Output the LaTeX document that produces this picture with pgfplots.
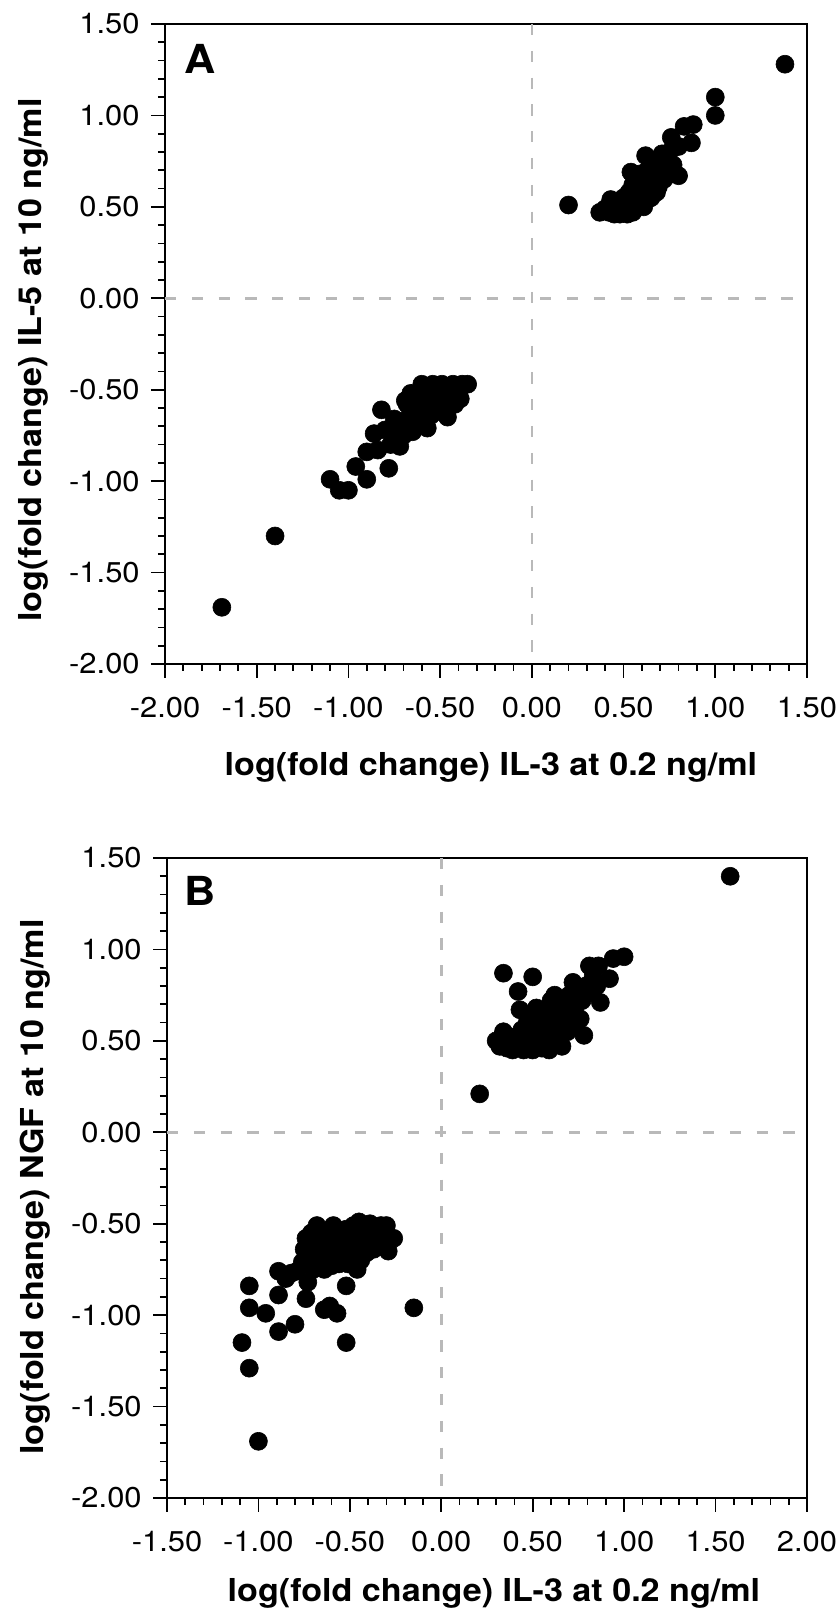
\documentclass[border=0pt]{standalone}
\usepackage{fontspec}
\setmainfont{TeX Gyre Heros}[FakeStretch=1.08]
\usepackage{pgfplots}
\pgfplotsset{compat=1.18}
\definecolor{refgray}{RGB}{185,185,185}
\pgfplotsset{
 myaxis/.style={
  scale only axis,
  anchor=south west,
  axis line style={line width=1pt},
  tick style={line width=0.9pt, black},
  tick align=outside,
  major tick length=7pt,
  minor tick length=3.5pt,
  xtick pos=bottom, ytick pos=left,
  minor tick num=4,
  ymin=-2, ymax=1.5,
  ytick={-2,-1.5,-1,-0.5,0,0.5,1,1.5},
  tick label style={font=\fontsize{14.3}{15}\selectfont},
  xticklabel style={inner sep=0pt, anchor=north, yshift=-9.5pt},
  yticklabel style={inner sep=0pt, anchor=east, xshift=-5.5pt},
  xticklabel shift=0pt,
  yticklabel shift=0pt,
  /pgf/number format/.cd, fixed, fixed zerofill, precision=2, assume math mode=true, /pgfplots/.cd,
  label style={font=\fontsize{15.8}{17}\selectfont\bfseries, inner sep=0pt},
  clip=false,
 },
 dots/.style={only marks, mark=*, mark size=4.5pt, mark options={draw=black, fill=black, line width=0.3pt}},
 zline/.style={refgray, line width=1.3pt, dash pattern=on 5.6pt off 7.8pt, no marks},
}
\begin{document}
\begin{tikzpicture}
\path[use as bounding box] (0,0) rectangle (419pt,808.5pt);
% Panel A
\begin{axis}[myaxis,
  at={(82.5pt,476.5pt)}, width=321pt, height=320pt,
  xmin=-2, xmax=1.5,
  xtick={-2,-1.5,-1,-0.5,0,0.5,1,1.5},
  xlabel={log(fold change) IL-3 at 0.2 ng/ml},
  ylabel={log(fold change) IL-5 at 10 ng/ml},
  xlabel style={at={([xshift=2.5pt,yshift=-56pt]axis description cs:0.5,0)}, anchor=base},
  ylabel style={at={([xshift=-61.5pt]axis description cs:0,0.475)}, anchor=base},
]
\addplot[zline] coordinates {(-2,0) (1.5,0)};
\addplot[zline] coordinates {(0,1.5) (0,-2)};
\addplot[dots] coordinates {
(0.37,0.47)(0.40,0.49)(0.42,0.47)(0.43,0.54)(0.45,0.46)(0.46,0.50)(0.47,0.53)(0.48,0.46)(0.49,0.48)(0.50,0.51)
(0.50,0.55)(0.52,0.46)(0.52,0.49)(0.53,0.58)(0.54,0.52)(0.54,0.69)(0.55,0.47)(0.55,0.62)(0.56,0.55)(0.57,0.50)
(0.57,0.65)(0.58,0.59)(0.59,0.52)(0.59,0.68)(0.60,0.56)(0.60,0.63)(0.61,0.50)(0.62,0.78)(0.62,0.60)(0.63,0.54)
(0.63,0.70)(0.64,0.66)(0.65,0.55)(0.66,0.62)(0.67,0.72)(0.68,0.58)(0.69,0.61)(0.70,0.68)(0.71,0.79)(0.72,0.65)
(0.73,0.75)(0.74,0.71)(0.75,0.80)(0.76,0.88)(0.77,0.73)(0.78,0.68)(0.80,0.67)(0.80,0.83)(0.83,0.94)(0.87,0.85)
(0.88,0.95)(1.00,1.00)(1.00,1.10)(1.38,1.28)(0.20,0.51)
(-1.69,-1.69)(-1.40,-1.30)(-1.10,-0.99)(-1.05,-1.05)(-1.00,-1.05)(-0.96,-0.92)(-0.90,-0.99)(-0.90,-0.84)(-0.86,-0.74)(-0.82,-0.61)
(-0.80,-0.72)(-0.78,-0.93)(-0.77,-0.80)(-0.75,-0.66)(-0.72,-0.81)(-0.71,-0.70)(-0.69,-0.56)(-0.68,-0.66)(-0.68,-0.58)(-0.66,-0.52)
(-0.65,-0.73)(-0.64,-0.62)(-0.62,-0.68)(-0.61,-0.55)(-0.60,-0.47)(-0.59,-0.60)(-0.57,-0.71)(-0.56,-0.52)(-0.55,-0.64)(-0.54,-0.47)
(-0.52,-0.58)(-0.51,-0.50)(-0.50,-0.62)(-0.49,-0.47)(-0.47,-0.55)(-0.46,-0.65)(-0.45,-0.50)(-0.43,-0.47)(-0.42,-0.58)(-0.40,-0.52)
(-0.39,-0.55)(-0.38,-0.47)(-0.35,-0.47)(-0.70,-0.75)(-0.74,-0.77)(-0.84,-0.83)
};
\node[anchor=base west, inner sep=0pt, font=\fontsize{20}{21}\selectfont\bfseries] at (axis description cs:0.0296,0.9234) {A};
\end{axis}
% Panel B
\begin{axis}[myaxis,
  at={(83.5pt,59.5pt)}, width=320pt, height=320pt,
  xmin=-1.5, xmax=2,
  xtick={-1.5,-1,-0.5,0,0.5,1,1.5,2},
  xlabel={log(fold change) IL-3 at 0.2 ng/ml},
  ylabel={log(fold change) NGF at 10 ng/ml},
  xlabel style={at={([xshift=3.5pt,yshift=-52pt]axis description cs:0.5,0)}, anchor=base},
  ylabel style={at={([xshift=-61.5pt]axis description cs:0,0.486)}, anchor=base},
]
\addplot[zline] coordinates {(-1.5,0) (2,0)};
\addplot[zline] coordinates {(0,1.5) (0,-2)};
\addplot[dots] coordinates {
(0.21,0.21)(0.30,0.50)(0.32,0.47)(0.34,0.55)(0.34,0.87)(0.36,0.46)(0.38,0.52)(0.39,0.45)(0.40,0.50)(0.42,0.77)
(0.42,0.48)(0.43,0.67)(0.44,0.56)(0.45,0.45)(0.46,0.52)(0.47,0.60)(0.48,0.47)(0.49,0.55)(0.50,0.85)(0.50,0.45)
(0.51,0.63)(0.52,0.68)(0.52,0.50)(0.53,0.57)(0.55,0.46)(0.55,0.61)(0.56,0.53)(0.57,0.66)(0.58,0.49)(0.59,0.45)
(0.59,0.58)(0.60,0.72)(0.61,0.54)(0.62,0.75)(0.62,0.63)(0.63,0.50)(0.64,0.68)(0.65,0.58)(0.66,0.47)(0.67,0.71)
(0.68,0.62)(0.69,0.55)(0.70,0.75)(0.71,0.66)(0.72,0.82)(0.73,0.60)(0.74,0.70)(0.75,0.78)(0.76,0.62)(0.77,0.72)
(0.78,0.53)(0.79,0.80)(0.80,0.76)(0.81,0.91)(0.83,0.85)(0.85,0.80)(0.86,0.91)(0.87,0.71)(0.92,0.84)(0.94,0.95)
(1.00,0.96)(1.58,1.40)
(-1.09,-1.15)(-1.05,-1.29)(-1.05,-0.84)(-1.05,-0.96)(-1.00,-1.69)(-0.96,-0.99)(-0.89,-1.09)(-0.89,-0.89)(-0.89,-0.76)(-0.85,-0.80)
(-0.82,-0.77)(-0.80,-1.05)(-0.79,-0.76)(-0.76,-0.71)(-0.75,-0.64)(-0.74,-0.58)(-0.74,-0.91)(-0.73,-0.82)(-0.72,-0.68)(-0.71,-0.55)
(-0.70,-0.75)(-0.69,-0.62)(-0.68,-0.51)(-0.67,-0.70)(-0.66,-0.58)(-0.65,-0.65)(-0.64,-0.97)(-0.64,-0.75)(-0.63,-0.54)(-0.62,-0.70)
(-0.61,-0.62)(-0.61,-0.95)(-0.60,-0.73)(-0.59,-0.51)(-0.58,-0.66)(-0.57,-0.99)(-0.57,-0.58)(-0.56,-0.72)(-0.55,-0.54)(-0.54,-0.63)
(-0.53,-0.68)(-0.52,-0.84)(-0.52,-1.15)(-0.52,-0.53)(-0.51,-0.72)(-0.50,-0.60)(-0.49,-0.66)(-0.48,-0.51)(-0.47,-0.56)(-0.46,-0.75)
(-0.46,-0.63)(-0.45,-0.49)(-0.44,-0.70)(-0.43,-0.58)(-0.42,-0.53)(-0.41,-0.66)(-0.40,-0.61)(-0.39,-0.50)(-0.38,-0.56)(-0.37,-0.64)
(-0.36,-0.52)(-0.34,-0.58)(-0.33,-0.51)(-0.31,-0.55)(-0.30,-0.51)(-0.29,-0.65)(-0.26,-0.58)(-0.15,-0.96)
};
\node[anchor=base west, inner sep=0pt, font=\fontsize{20}{21}\selectfont\bfseries] at (axis description cs:0.027,0.925) {B};
\end{axis}
\end{tikzpicture}
\end{document}
